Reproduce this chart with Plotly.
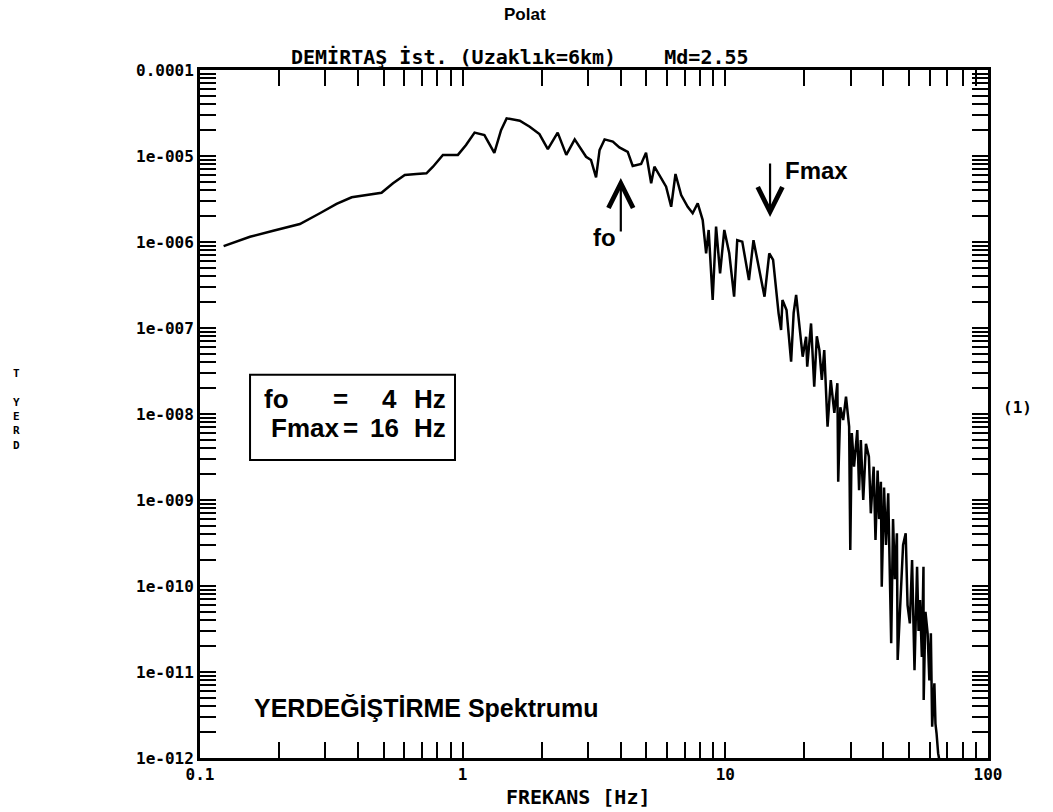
import math
import plotly.graph_objects as go

# Displacement spectrum, DEMİRTAŞ station
freq_hz = [0.123, 0.155, 0.190, 0.240, 0.286, 0.331, 0.378, 0.430, 0.491, 0.543,
           0.602, 0.667, 0.728, 0.771, 0.841, 0.959, 1.03, 1.11, 1.21, 1.32,
           1.40, 1.47, 1.65, 1.80, 1.96, 2.11, 2.30, 2.48, 2.67, 2.95,
           3.08, 3.22, 3.32, 3.47, 3.73, 3.95, 4.25, 4.44, 4.78, 4.99,
           5.22, 5.37, 5.61, 5.95, 6.22, 6.46, 6.79, 7.19, 7.51, 7.85,
           8.20, 8.45, 8.64, 8.95, 9.22, 9.55, 9.91, 10.35, 10.8, 11.1,
           11.6, 12.3, 12.8, 13.4, 14.1, 14.7, 15.2, 15.95, 16.3, 16.5,
           17.1, 17.8, 18.2, 18.6, 19.0, 19.7, 20.3, 20.5, 21.2, 21.8,
           22.3, 22.8, 23.3, 23.8, 24.5, 25.2, 26.0, 26.7, 26.9, 27.4,
           28.1, 28.8, 29.6, 29.9, 30.3, 30.9, 31.8, 32.3, 32.8, 33.5,
           34.3, 35.2, 35.8, 36.7, 37.3, 38.0, 38.5, 39.1, 39.4, 40.2,
           40.9, 41.7, 42.8, 43.5, 44.2, 45.0, 45.3, 46.6, 47.5, 48.6,
           49.4, 50.4, 51.4, 52.5, 53.7, 54.4, 55.1, 56.0, 56.8, 56.9,
           57.8, 58.9, 59.8, 60.6, 61.3, 62.5, 63.1, 63.7, 64.6, 65.5]

displacement = [8.97e-7, 1.15e-6, 1.35e-6, 1.62e-6, 2.16e-6, 2.77e-6, 3.31e-6, 3.52e-6, 3.74e-6, 4.82e-6,
                6.01e-6, 6.18e-6, 6.29e-6, 7.51e-6, 1.03e-5, 1.03e-5, 1.34e-5, 1.87e-5, 1.75e-5, 1.09e-5,
                2.00e-5, 2.74e-5, 2.57e-5, 2.19e-5, 1.80e-5, 1.20e-5, 1.87e-5, 1.03e-5, 1.56e-5, 9.8e-6,
                8.98e-6, 5.65e-6, 1.17e-5, 1.56e-5, 1.47e-5, 1.26e-5, 1.12e-5, 7.65e-6, 8.07e-6, 1.09e-5,
                4.82e-6, 7.51e-6, 6.01e-6, 4.40e-6, 2.57e-6, 6.18e-6, 3.52e-6, 2.57e-6, 2.16e-6, 2.82e-6,
                1.80e-6, 7.39e-7, 1.38e-6, 2.12e-7, 1.51e-6, 4.32e-7, 1.38e-6, 7.39e-7, 2.31e-7, 1.05e-6,
                1.01e-6, 3.61e-7, 1.05e-6, 5.16e-7, 2.31e-7, 7.39e-7, 6.18e-7, 1.48e-7, 9.48e-8, 2.12e-7,
                1.62e-7, 4.06e-8, 1.5e-7, 2.42e-7, 1.35e-7, 4.64e-8, 7.92e-8, 3.55e-8, 1.13e-7, 2.08e-8,
                8.0e-8, 5.55e-8, 2.5e-8, 5.55e-8, 7.12e-9, 2.48e-8, 1.03e-8, 2.28e-8, 1.63e-9, 1.2e-8,
                8.51e-9, 1.59e-8, 7.12e-9, 2.62e-10, 6.0e-9, 2.44e-9, 6.5e-9, 1.3e-9, 4.99e-9, 1.0e-9,
                4.5e-9, 3.19e-9, 7.0e-10, 2.44e-9, 3.43e-10, 2.2e-9, 6.0e-10, 1.63e-9, 9.8e-11, 1.4e-9,
                3.0e-10, 1.20e-9, 2.16e-11, 6.0e-10, 1.2e-10, 4.10e-10, 1.38e-11, 8.23e-11, 3.0e-10, 4.10e-10,
                6.0e-11, 3.68e-11, 2.0e-10, 1.05e-11, 1.67e-10, 3.0e-11, 6.88e-11, 1.5e-11, 1.67e-10, 4.72e-12,
                5.0e-11, 2.82e-11, 8.0e-12, 2.82e-11, 2.31e-12, 7.39e-12, 2.5e-12, 1.94e-12, 1.13e-12, 9e-13]

# Axis ticks
x_major = [0.1, 1, 10, 100]
x_labels = ["0.1", "1", "10", "100"]
y_major = [1e-4, 1e-5, 1e-6, 1e-7, 1e-8, 1e-9, 1e-10, 1e-11, 1e-12]
y_labels = ["0.0001", "1e-005", "1e-006", "1e-007", "1e-008",
            "1e-009", "1e-010", "1e-011", "1e-012"]
mantissas = [2, 3, 4, 5, 6, 7, 8, 9]
x_minor = [m * d for d in (0.1, 1, 10) for m in mantissas]
y_minor = [m * 10.0 ** e for e in range(-12, -4) for m in mantissas]

# Corner frequency and maximum frequency markers
fo_hz, fo_amp = 4.0, 5.55e-6
fmax_hz, fmax_amp = 14.8, 1.95e-6

MONO = "DejaVu Sans Mono"
SANS = "Liberation Sans, Arial"


def sans(size):
    return dict(family=SANS, size=size, color="black", weight="bold")


def mono(size):
    return dict(family=MONO, size=size, color="black", weight="bold")


fig = go.Figure()
fig.add_trace(go.Scatter(
    x=freq_hz, y=displacement, mode="lines",
    line=dict(color="black", width=2.5),
    showlegend=False, hoverinfo="skip",
))

axis_common = dict(
    type="log", showgrid=False, zeroline=False,
    showline=True, linewidth=3, linecolor="black", mirror="allticks",
    ticks="inside", ticklen=16, tickwidth=2, tickcolor="black",
    tickmode="array", tickfont=mono(16),
)

fig.update_xaxes(
    **axis_common, range=[-1, 2],
    tickvals=x_major, ticktext=x_labels,
    minor=dict(tickmode="array", tickvals=x_minor, ticks="inside",
               ticklen=16, tickwidth=2, tickcolor="black", showgrid=False),
)
fig.update_yaxes(
    **axis_common, range=[-12, -4],
    tickvals=y_major, ticktext=y_labels,
    minor=dict(tickmode="array", tickvals=y_minor, ticks="inside",
               ticklen=16, tickwidth=2, tickcolor="black", showgrid=False),
)


def label(x, y, text, font, xanchor="center", xref="paper", yref="paper"):
    return dict(x=x, y=y, xref=xref, yref=yref, text=text, showarrow=False,
                xanchor=xanchor, yanchor="middle", font=font)


def arrow(f, a, tail_dy):
    return dict(x=math.log10(f), y=math.log10(a), xref="x", yref="y",
                text="", showarrow=True, ax=0, ay=tail_dy, arrowhead=5,
                arrowsize=2.2, arrowwidth=2.2, arrowcolor="black", standoff=0)


annotations = [
    arrow(fo_hz, fo_amp, 55),
    arrow(fmax_hz, fmax_amp, -55),
    label(math.log10(3.47), -5.942, "fo", sans(24), xref="x", yref="y"),
    label(1.2205, -5.163, "Fmax", sans(24), xanchor="left", xref="x", yref="y"),
    # boxed summary
    label(0.0787, 0.522, "fo", sans(26), xanchor="left"),
    label(0.178, 0.522, "=", sans(26)),
    label(0.240, 0.522, "4", sans(26)),
    label(0.269, 0.522, "Hz", sans(26), xanchor="left"),
    label(0.0875, 0.480, "Fmax", sans(26), xanchor="left"),
    label(0.1905, 0.480, "=", sans(26)),
    label(0.2345, 0.480, "16", sans(26)),
    label(0.269, 0.480, "Hz", sans(26), xanchor="left"),
    label(0.066, 0.072, "YERDEĞİŞTİRME Spektrumu", sans(25), xanchor="left"),
    # titles
    label(0.412, 1.081, "Polat", sans(17)),
    label(0.406, 1.019, "DEMİRTAŞ İst. (Uzaklık=6km)    Md=2.55", mono(20)),
    label(0.480, -0.0567, "FREKANS [Hz]", mono(20)),
    label(-0.2335, 0.506, "T<br><br>Y<br>E<br>R<br>D", mono(11)),
    label(1.037, 0.510, "(1)", mono(16)),
]

fig.update_layout(
    width=1053, height=812,
    margin=dict(l=200, r=65, t=70, b=54),
    paper_bgcolor="white", plot_bgcolor="white",
    annotations=annotations,
    shapes=[dict(type="rect", xref="paper", yref="paper",
                 x0=0.0635, x1=0.3236, y0=0.433, y1=0.557,
                 line=dict(color="black", width=2), fillcolor="rgba(0,0,0,0)",
                 layer="above")],
)

fig.write_html("out.html")
